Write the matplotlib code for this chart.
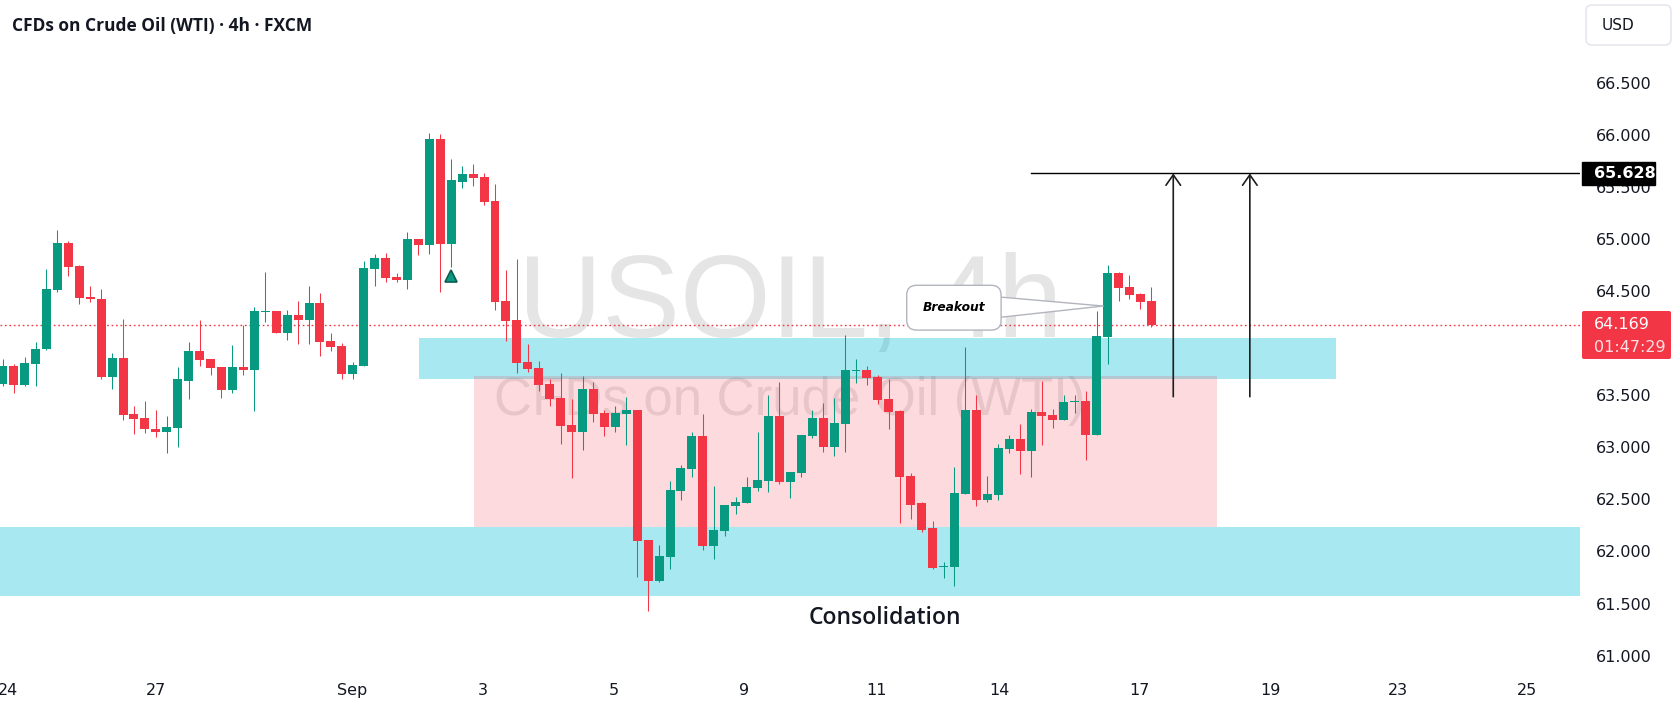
import matplotlib.pyplot as plt
from matplotlib.patches import Rectangle, FancyBboxPatch
import numpy as np

# 4h candles, USOIL
opens = [63.61, 63.78, 63.60, 63.80, 63.94, 64.51, 64.96, 64.74, 64.44, 64.42,
         63.67, 63.86, 63.32, 63.28, 63.17, 63.15, 63.18, 63.64, 63.92, 63.85,
         63.77, 63.55, 63.77, 63.74, 64.30, 64.31, 64.10, 64.27, 64.22, 64.38,
         64.02, 63.97, 63.70, 63.78, 64.71, 64.82, 64.63, 64.60, 65.00, 64.94,
         65.96, 64.95, 65.55, 65.62, 65.59, 65.36, 64.40, 64.22, 63.82, 63.76,
         63.61, 63.47, 63.21, 63.15, 63.56, 63.33, 63.19, 63.32, 63.36, 62.11,
         61.72, 61.95, 62.58, 62.79, 63.11, 62.05, 62.20, 62.44, 62.46, 62.61,
         62.68, 63.30, 62.67, 62.75, 63.11, 63.28, 63.00, 63.22, 63.73, 63.74,
         63.67, 63.46, 63.35, 62.72, 62.46, 62.22, 61.85, 61.85, 62.55, 63.36,
         62.49, 62.54, 62.98, 63.08, 62.96, 63.34, 63.31, 63.26, 63.43, 63.44,
         63.12, 64.06, 64.67, 64.54, 64.47, 64.40]
highs = [63.85, 63.80, 63.87, 64.01, 64.71, 65.08, 64.98, 64.75, 64.55, 64.52,
         63.90, 64.23, 63.40, 63.44, 63.36, 63.30, 63.77, 64.01, 64.22, 63.85,
         63.77, 63.98, 64.17, 64.35, 64.68, 64.31, 64.32, 64.40, 64.55, 64.48,
         64.10, 64.00, 63.82, 64.79, 64.85, 64.86, 64.67, 65.07, 65.00, 66.02,
         66.01, 65.77, 65.70, 65.72, 65.63, 65.53, 64.70, 64.81, 63.99, 63.83,
         63.65, 63.71, 63.46, 63.68, 63.63, 63.36, 63.40, 63.48, 63.36, 62.11,
         62.06, 62.68, 62.83, 63.15, 63.32, 62.63, 62.45, 62.52, 62.71, 63.15,
         63.50, 63.63, 62.76, 63.12, 63.36, 63.42, 63.47, 64.08, 63.85, 63.78,
         63.69, 63.65, 63.36, 62.75, 62.47, 62.29, 61.90, 62.81, 63.96, 63.50,
         62.72, 63.03, 63.12, 63.22, 63.37, 63.64, 63.37, 63.50, 63.50, 63.54,
         64.31, 64.75, 64.68, 64.65, 64.48, 64.54]
lows = [63.59, 63.52, 63.59, 63.59, 63.93, 64.49, 64.64, 64.37, 64.39, 63.65,
        63.56, 63.26, 63.13, 63.14, 63.10, 62.94, 63.00, 63.46, 63.78, 63.69,
        63.47, 63.52, 63.69, 63.35, 64.20, 64.10, 64.03, 63.99, 63.99, 63.88,
        63.92, 63.65, 63.65, 63.78, 64.55, 64.59, 64.59, 64.52, 64.84, 64.85,
        64.49, 64.73, 65.49, 65.51, 65.32, 64.32, 64.02, 63.71, 63.72, 63.54,
        63.40, 63.03, 62.70, 62.97, 63.24, 63.11, 63.15, 63.02, 61.755, 61.43,
        61.71, 61.83, 62.49, 62.71, 62.01, 61.93, 62.15, 62.36, 62.46, 62.58,
        62.57, 62.65, 62.51, 62.71, 63.09, 62.95, 62.92, 62.95, 63.62, 63.60,
        63.41, 63.17, 62.27, 62.31, 62.19, 61.83, 61.74, 61.67, 62.55, 62.44,
        62.47, 62.49, 62.94, 62.74, 62.71, 63.02, 63.18, 63.26, 63.33, 62.88,
        63.12, 63.80, 64.40, 64.42, 64.33, 64.15]
closes = [63.78, 63.60, 63.81, 63.94, 64.52, 64.96, 64.73, 64.43, 64.42, 63.67,
          63.86, 63.31, 63.27, 63.17, 63.15, 63.19, 63.65, 63.92, 63.84, 63.76,
          63.55, 63.77, 63.74, 64.31, 64.31, 64.10, 64.27, 64.22, 64.38, 64.01,
          63.96, 63.70, 63.79, 64.72, 64.82, 64.62, 64.60, 65.00, 64.94, 65.96,
          64.95, 65.56, 65.62, 65.58, 65.35, 64.39, 64.21, 63.81, 63.75, 63.60,
          63.46, 63.20, 63.15, 63.56, 63.32, 63.19, 63.33, 63.36, 62.10, 61.72,
          61.96, 62.59, 62.80, 63.11, 62.05, 62.21, 62.45, 62.47, 62.62, 62.69,
          63.30, 62.67, 62.76, 63.12, 63.28, 63.00, 63.23, 63.74, 63.74, 63.66,
          63.45, 63.34, 62.71, 62.45, 62.21, 61.84, 61.86, 62.56, 63.36, 62.49,
          62.55, 62.99, 63.08, 62.96, 63.34, 63.30, 63.26, 63.43, 63.44, 63.12,
          64.07, 64.67, 64.53, 64.46, 64.39, 64.169]

date_ticks = [0.5, 14.0, 31.9, 43.9, 55.9, 67.8, 79.9, 91.1, 103.9, 115.9, 127.5, 139.3]
date_labels = ['24', '27', 'Sep', '3', '5', '9', '11', '14', '17', '19', '23', '25']
price_ticks = [61.0, 61.5, 62.0, 62.5, 63.0, 63.5, 64.0, 64.5, 65.0, 65.5, 66.0, 66.5]

last_price = 64.169
countdown = '01:47:29'
target = 65.628
upper_zone = (63.65, 64.05)
lower_zone = (61.575, 62.23)
range_box = (62.23, 63.68)

GREEN = '#089981'
RED = '#f23645'
TXT = '#131722'

W, H = 1680, 710
fig = plt.figure(figsize=(W / 100, H / 100), dpi=100)
ax = fig.add_axes([0, 38 / H, 1580 / W, 672 / H])
ax.set_xlim(-0.247, 144.18)
ax.set_ylim(60.8426, 67.292)
for s in ax.spines.values():
    s.set_visible(False)

# watermark (under everything else in the pane)
ax.text(790 / W, 1 - 337 / H, 'USOIL, 4h', transform=fig.transFigure, ha='center',
        va='baseline', fontsize=84, color='#e5e5e5', family='Liberation Sans', zorder=0.5)
ax.text(790 / W, 1 - 415 / H, 'CFDs on Crude Oil (WTI)', transform=fig.transFigure,
        ha='center', va='baseline', fontsize=38, color='#e5e5e5', family='Liberation Sans',
        zorder=0.5)

# zones
xl, xr = ax.get_xlim()
ax.add_patch(Rectangle((xl, lower_zone[0]), xr - xl, lower_zone[1] - lower_zone[0],
                       color=(0, 188 / 255, 212 / 255), alpha=0.34, lw=0, zorder=1))
ax.add_patch(Rectangle((38.05, upper_zone[0]), 121.9 - 38.05, upper_zone[1] - upper_zone[0],
                       color=(0, 188 / 255, 212 / 255), alpha=0.34, lw=0, zorder=1))
ax.add_patch(Rectangle((43.08, range_box[0]), 111.0 - 43.08, range_box[1] - range_box[0],
                       color=RED, alpha=0.18, lw=0, zorder=1.2))

# candles
o = np.array(opens)
c = np.array(closes)
x = np.arange(len(o))
cols = np.where(c >= o, GREEN, RED)
ax.vlines(x, lows, highs, colors=cols, lw=0.75, zorder=3)
ax.bar(x, np.maximum(np.abs(c - o), 0.012), bottom=np.minimum(o, c), width=0.82,
       color=cols, lw=0, zorder=4)

ax.plot(41, 64.643, marker='^', ms=9, mfc='#0c9b82', mec='#0b5c4f', mew=1.2, zorder=5)

# last price line and target
ax.axhline(last_price, color=RED, lw=1, ls=(0, (1.2, 2.0)), zorder=2)
ax.plot([94, xr], [target, target], color='black', lw=1, zorder=5)
for ax_x in (107, 114):
    ax.annotate('', xy=(ax_x, target), xytext=(ax_x, 63.485),
                arrowprops=dict(arrowstyle='->,head_length=0.5,head_width=0.35',
                                color='#1e1e1e', lw=1.2, mutation_scale=15,
                                shrinkA=0, shrinkB=0), zorder=5)

ax.annotate('Breakout', xy=(100.6, 64.355), xytext=(86.95, 64.339), ha='center',
            va='center', fontsize=8.8, fontweight='bold', fontstyle='italic', color='#000000',
            bbox=dict(boxstyle='round,pad=1.3,rounding_size=0.8', fc='white',
                      ec='#b2b5be', lw=1),
            arrowprops=dict(arrowstyle='wedge,tail_width=2.4,shrink_factor=0.5',
                            fc='white', ec='#b2b5be', lw=1, patchA=None,
                            shrinkA=0, shrinkB=0), zorder=6)

ax.text(80.6, 61.30, 'Consolidation', ha='center', va='baseline', fontsize=16.5,
        family='Open Sans', fontweight='semibold', color=TXT, zorder=6)

# axes ticks
ax.yaxis.tick_right()
ax.set_yticks(price_ticks, [f'{p:.3f}' for p in price_ticks])
ax.set_xticks(date_ticks, date_labels)
ax.tick_params(axis='y', length=0, pad=11.5, labelsize=11.5, labelcolor=TXT)
ax.tick_params(axis='x', length=0, pad=8, labelsize=11.5, labelcolor=TXT)

# pixel overlay for header and price-scale labels
ov = fig.add_axes([0, 0, 1, 1], zorder=10)
ov.set_xlim(0, W)
ov.set_ylim(H, 0)
ov.axis('off')
ov.patch.set_alpha(0)

ov.text(12, 31.5, 'CFDs on Crude Oil (WTI) \u00b7 4h \u00b7 FXCM', family='Open Sans',
        fontweight='bold', fontsize=12.5, color=TXT, va='baseline')

ov.add_patch(FancyBboxPatch((1586, 5), 85, 40, boxstyle='round,pad=0,rounding_size=6',
                            fc='white', ec='#e0e3eb', lw=1))
ov.text(1602, 25, 'USD', fontsize=11, color=TXT, va='center')

ty = 82.5 + (66.5 - target) * 104.2
ov.add_patch(Rectangle((1582, ty - 11.5), 73, 23, color='black'))
ov.text(1594, ty, f'{target:.3f}', color='white', fontsize=11.5, fontweight='bold',
        va='center')

ov.add_patch(FancyBboxPatch((1582, 311), 89, 48, boxstyle='round,pad=0,rounding_size=2',
                            fc=RED, ec='none'))
ov.text(1594, 324.6, f'{last_price:.3f}', color='white', fontsize=11.5, va='center')
ov.text(1594, 348, countdown, color='white', alpha=0.85, fontsize=11.5, va='center')

fig.savefig('out.png', dpi=100)
